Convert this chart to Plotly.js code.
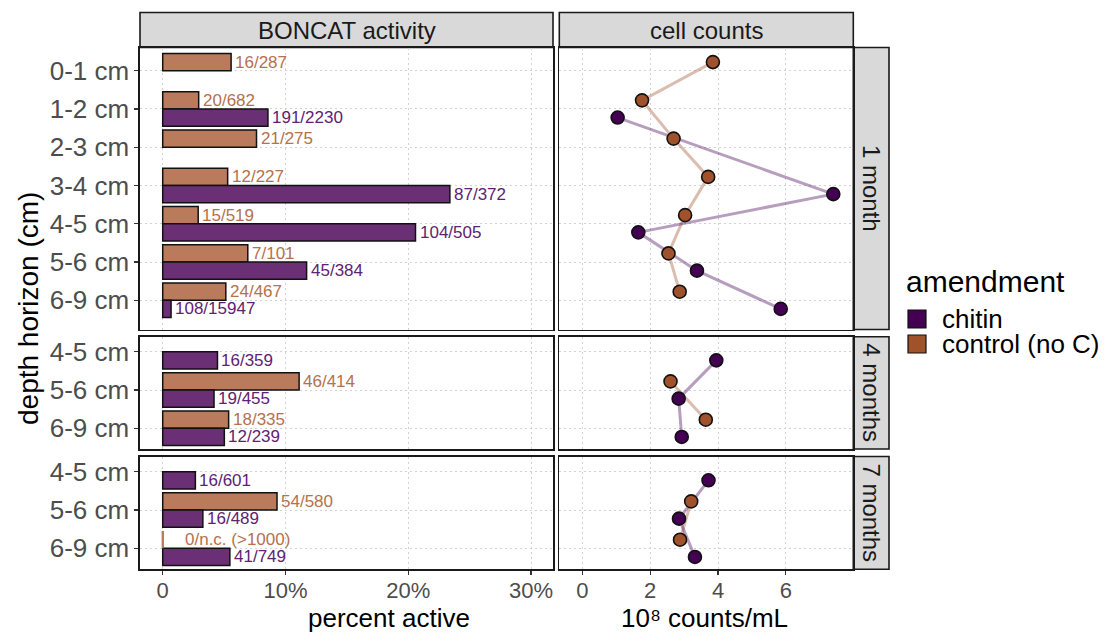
<!DOCTYPE html>
<html>
<head>
<meta charset="utf-8">
<script src="https://cdn.plot.ly/plotly-3.0.1.min.js"></script>
<style>html,body{margin:0;padding:0;background:#fff;}#chart{width:1111px;height:632px;}</style>
</head>
<body>
<div id="chart"></div>
<script>
// ---------------- DATA ----------------
const depth1 = ["0-1 cm","1-2 cm","2-3 cm","3-4 cm","4-5 cm","5-6 cm","6-9 cm"];
const depth4 = ["4-5 cm","5-6 cm","6-9 cm"];
const depth7 = ["4-5 cm","5-6 cm","6-9 cm"];
const periods = ["1 month","4 months","7 months"];
const amendments = ["chitin","control (no C)"];

// percent active (BONCAT)
const active1Control = [5.57, 2.93, 7.64, 5.29, 2.89, 6.93, 5.14];
const active1Chitin  = [null, 8.57, null, 23.39, 20.59, 11.72, 0.68];
const active4Control = [null, 11.11, 5.37];
const active4Chitin  = [4.46, 4.18, 5.02];
const active7Control = [null, 9.31, 0];
const active7Chitin  = [2.66, 3.27, 5.47];

// labels active/total
const label1Control = ["16/287","20/682","21/275","12/227","15/519","7/101","24/467"];
const label1Chitin  = [null,"191/2230",null,"87/372","104/505","45/384","108/15947"];
const label4Control = [null,"46/414","18/335"];
const label4Chitin  = ["16/359","19/455","12/239"];
const label7Control = [null,"54/580","0/n.c. (>1000)"];
const label7Chitin  = ["16/601","16/489","41/749"];

// cell counts (10^8 counts/mL)
const cells1Control = [3.85, 1.76, 2.69, 3.71, 3.03, 2.54, 2.87];
const cells1Chitin  = [null, 1.04, null, 7.40, 1.65, 3.38, 5.85];
const cells4Control = [null, 2.60, 3.64];
const cells4Chitin  = [3.95, 2.84, 2.93];
const cells7Control = [null, 3.21, 2.88];
const cells7Chitin  = [3.72, 2.85, 3.32];

const xTicksActive = [0, 10, 20, 30];
const xTickTextActive = ["0", "10%", "20%", "30%"];
const xTicksCells = [0, 2, 4, 6];

// ---------------- STYLE ----------------
const W = 1111, H = 632;
const FONT = "Liberation Sans, Arial, Helvetica, sans-serif";
const col = {
  chitinBar: "#6a2f74", controlBar: "#b97b5c",
  chitinPt: "#440154", controlPt: "#a0522d",
  chitinLine: "rgba(68,1,84,0.38)", controlLine: "rgba(160,82,45,0.38)",
  chitinText: "#5e2270", controlText: "#b4714d"
};
const px = v => v / W, py = v => 1 - v / H;

const colX = [[140, 553], [559.3, 853.3]];
const rowsPx = [[47.5, 329.5], [336.7, 449], [456.5, 569.3]];
const yRanges = [[6.763, -0.606], [2.54, -0.392], [2.548, -0.397]];
const xRangeActive = [-1.85, 31.79];
const xRangeCells = [-0.68, 7.99];

const rows = [
  {cats: depth1, aCtl: active1Control, aChi: active1Chitin, lCtl: label1Control, lChi: label1Chitin, cCtl: cells1Control, cChi: cells1Chitin},
  {cats: depth4, aCtl: active4Control, aChi: active4Chitin, lCtl: label4Control, lChi: label4Chitin, cCtl: cells4Control, cChi: cells4Chitin},
  {cats: depth7, aCtl: active7Control, aChi: active7Chitin, lCtl: label7Control, lChi: label7Chitin, cCtl: cells7Control, cChi: cells7Chitin}
];

const traces = [];
const annotations = [];
const shapes = [];
const layout = {
  width: W, height: H,
  margin: {l: 0, r: 0, t: 0, b: 0},
  paper_bgcolor: "#fff", plot_bgcolor: "#fff",
  showlegend: false,
  barmode: "overlay",
  font: {family: FONT, color: "#4d4d4d"}
};

const HALF = 0.45, OFF = 0.225;

rows.forEach((r, ri) => {
  const n = ri * 2;
  const xa = n === 0 ? "x" : "x" + (n + 1), ya = n === 0 ? "y" : "y" + (n + 1);
  const xb = "x" + (n + 2), yb = "y" + (n + 2);
  const idx = r.cats.map((_, i) => i);
  const isBottom = ri === rows.length - 1;
  const yDom = [py(rowsPx[ri][1]), py(rowsPx[ri][0])];

  const grid = {showgrid: true, gridcolor: "#d2d2d2", gridwidth: 1, griddash: "2px,3px", zeroline: false,
    showline: true, mirror: true, linecolor: "#1a1a1a", linewidth: 1.6};

  layout["xaxis" + (n === 0 ? "" : n + 1)] = Object.assign({}, grid, {
    domain: [px(colX[0][0]), px(colX[0][1])], anchor: ya, range: xRangeActive,
    tickmode: "array", tickvals: xTicksActive, ticktext: xTickTextActive,
    showticklabels: isBottom, ticks: isBottom ? "outside" : "", ticklen: 4, tickcolor: "#333", tickwidth: 1.2,
    ticklabelstandoff: -3,
    tickfont: {size: 22, color: "#4d4d4d", family: FONT}
  });
  layout["xaxis" + (n + 2)] = Object.assign({}, grid, {
    domain: [px(colX[1][0]), px(colX[1][1])], anchor: yb, range: xRangeCells,
    tickmode: "array", tickvals: xTicksCells,
    showticklabels: isBottom, ticks: isBottom ? "outside" : "", ticklen: 4, tickcolor: "#333", tickwidth: 1.2,
    ticklabelstandoff: -3,
    tickfont: {size: 22, color: "#4d4d4d", family: FONT}
  });
  layout["yaxis" + (n === 0 ? "" : n + 1)] = Object.assign({}, grid, {
    domain: yDom, anchor: xa, range: yRanges[ri],
    tickmode: "array", tickvals: idx, ticktext: r.cats,
    ticks: "outside", ticklen: 4, tickcolor: "#333", tickwidth: 1.2,
    tickfont: {size: 26, color: "#4d4d4d", family: FONT}
  });
  layout["yaxis" + (n + 2)] = Object.assign({}, grid, {
    domain: yDom, anchor: xb, range: yRanges[ri],
    tickmode: "array", tickvals: idx, showticklabels: false, ticks: ""
  });

  // bars
  traces.push({type: "bar", orientation: "h", x: r.aCtl, y: idx, width: HALF, offset: -HALF,
    xaxis: xa, yaxis: ya, marker: {color: col.controlBar, line: {color: "#111", width: 1.5}}, hoverinfo: "x"});
  traces.push({type: "bar", orientation: "h", x: r.aChi, y: idx, width: HALF, offset: 0,
    xaxis: xa, yaxis: ya, marker: {color: col.chitinBar, line: {color: "#111", width: 1.5}}, hoverinfo: "x"});

  // zero-valued bars drawn as a thin mark at 0
  r.aCtl.forEach((v, i) => {
    if (v === 0) traces.push({type: "scatter", mode: "lines", x: [v, v], y: [i - HALF, i],
      xaxis: xa, yaxis: ya, line: {color: col.controlBar, width: 2}, hoverinfo: "skip"});
  });

  // bar labels
  r.aCtl.forEach((v, i) => {
    if (v === null || !r.lCtl[i]) return;
    annotations.push({xref: xa, yref: ya, x: v, y: i - OFF, text: r.lCtl[i], showarrow: false,
      xanchor: "left", yanchor: "middle", xshift: v === 0 ? 20 : 2,
      font: {size: 17, color: col.controlText, family: FONT}});
  });
  r.aChi.forEach((v, i) => {
    if (v === null || !r.lChi[i]) return;
    annotations.push({xref: xa, yref: ya, x: v, y: i + OFF, text: r.lChi[i], showarrow: false,
      xanchor: "left", yanchor: "middle", xshift: 2,
      font: {size: 17, color: col.chitinText, family: FONT}});
  });

  // cell counts: lines then points
  const yCtl = idx.map(i => i - OFF), yChi = idx.map(i => i + OFF);
  traces.push({type: "scatter", mode: "lines", x: r.cCtl, y: yCtl, connectgaps: true,
    xaxis: xb, yaxis: yb, line: {color: col.controlLine, width: 3}, hoverinfo: "skip"});
  traces.push({type: "scatter", mode: "lines", x: r.cChi, y: yChi, connectgaps: true,
    xaxis: xb, yaxis: yb, line: {color: col.chitinLine, width: 3}, hoverinfo: "skip"});
  traces.push({type: "scatter", mode: "markers", x: r.cCtl, y: yCtl,
    xaxis: xb, yaxis: yb, marker: {size: 13, color: col.controlPt, line: {color: "#111", width: 1.6}}});
  traces.push({type: "scatter", mode: "markers", x: r.cChi, y: yChi,
    xaxis: xb, yaxis: yb, marker: {size: 13, color: col.chitinPt, line: {color: "#111", width: 1.6}}});

  // right strip
  shapes.push({type: "rect", xref: "paper", yref: "paper", x0: px(853.3), x1: px(889),
    y0: py(rowsPx[ri][1]), y1: py(rowsPx[ri][0]), fillcolor: "#d9d9d9", line: {color: "#1a1a1a", width: 1.6}, layer: "below"});
  annotations.push({xref: "paper", yref: "paper", x: px(871.5), y: py((rowsPx[ri][0] + rowsPx[ri][1]) / 2),
    text: periods[ri], textangle: 90, showarrow: false, xanchor: "center", yanchor: "middle",
    font: {size: 24, color: "#1a1a1a", family: FONT}});
});

// top strips
const stripTitles = ["BONCAT activity", "cell counts"];
colX.forEach((c, ci) => {
  shapes.push({type: "rect", xref: "paper", yref: "paper", x0: px(c[0]), x1: px(c[1]),
    y0: py(47.5), y1: py(12.5), fillcolor: "#d9d9d9", line: {color: "#1a1a1a", width: 1.6}, layer: "below"});
  annotations.push({xref: "paper", yref: "paper", x: px((c[0] + c[1]) / 2), y: py(30),
    text: stripTitles[ci], showarrow: false, xanchor: "center", yanchor: "middle",
    font: {size: 24, color: "#1a1a1a", family: FONT}});
});

// axis titles
annotations.push({xref: "paper", yref: "paper", x: px(389), y: py(618), text: "percent active", showarrow: false,
  xanchor: "center", yanchor: "middle", font: {size: 26, color: "#000", family: FONT}});
annotations.push({xref: "paper", yref: "paper", x: px(704), y: py(618), text: "10\u2078 counts/mL", showarrow: false,
  xanchor: "center", yanchor: "middle", font: {size: 26, color: "#000", family: FONT}});
annotations.push({xref: "paper", yref: "paper", x: px(29), y: py(309), text: "depth horizon (cm)", showarrow: false,
  textangle: -90, xanchor: "center", yanchor: "middle", font: {size: 28, color: "#000", family: FONT}});

// legend
annotations.push({xref: "paper", yref: "paper", x: px(904), y: py(282), text: "amendment", showarrow: false,
  xanchor: "left", yanchor: "middle", font: {size: 30, color: "#000", family: FONT}});
const legendFill = [col.chitinPt, col.controlPt];
amendments.forEach((a, i) => {
  const yc = 319 + i * 25;
  shapes.push({type: "rect", xref: "paper", yref: "paper", x0: px(908), x1: px(926), y0: py(yc + 9), y1: py(yc - 9),
    fillcolor: legendFill[i], line: {color: "#111", width: 1.2}});
  annotations.push({xref: "paper", yref: "paper", x: px(940), y: py(yc), text: a, showarrow: false,
    xanchor: "left", yanchor: "middle", font: {size: 26, color: "#000", family: FONT}});
});

layout.annotations = annotations;
layout.shapes = shapes;

Plotly.newPlot("chart", traces, layout, {displayModeBar: false, staticPlot: true});
</script>
</body>
</html>
